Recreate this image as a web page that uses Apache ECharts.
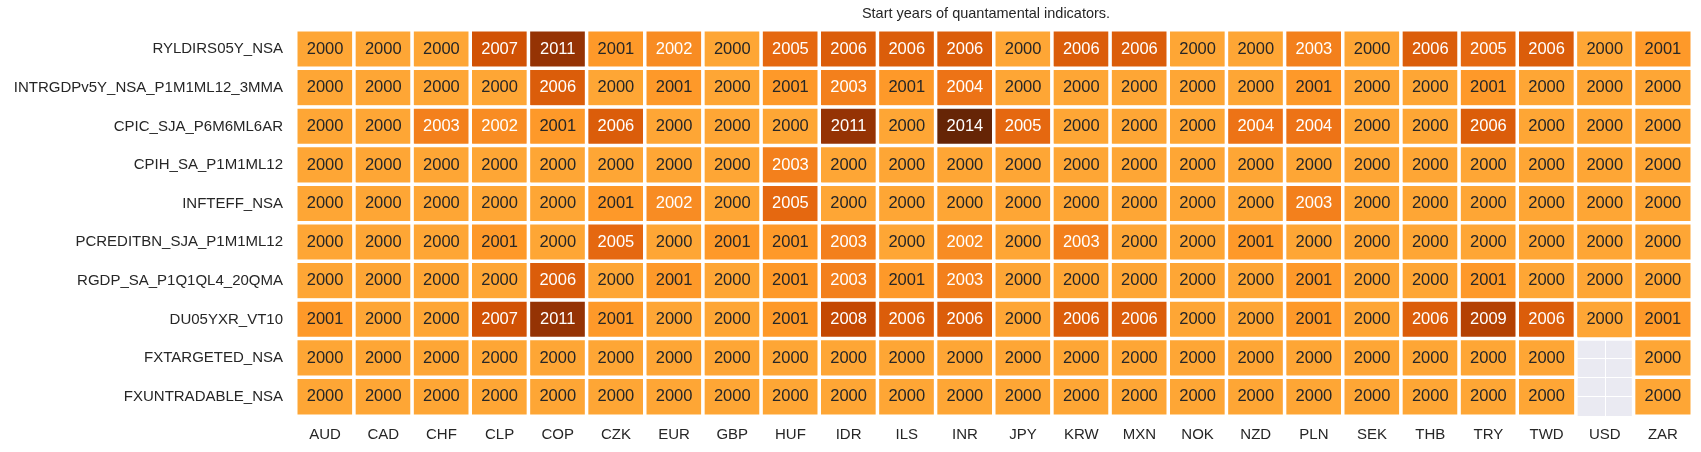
<!DOCTYPE html>
<html>
<head>
<meta charset="utf-8">
<script src="https://cdn.jsdelivr.net/npm/echarts@6/dist/echarts.min.js"></script>
<style>
  html, body { margin: 0; padding: 0; background: #ffffff; }
  #chart { width: 1701px; height: 452px; }
</style>
</head>
<body>
<div id="chart"></div>
<script>
const currencies = ['AUD','CAD','CHF','CLP','COP','CZK','EUR','GBP','HUF','IDR','ILS','INR','JPY','KRW','MXN','NOK','NZD','PLN','SEK','THB','TRY','TWD','USD','ZAR'];

const indicators = [
  'RYLDIRS05Y_NSA',
  'INTRGDPv5Y_NSA_P1M1ML12_3MMA',
  'CPIC_SJA_P6M6ML6AR',
  'CPIH_SA_P1M1ML12',
  'INFTEFF_NSA',
  'PCREDITBN_SJA_P1M1ML12',
  'RGDP_SA_P1Q1QL4_20QMA',
  'DU05YXR_VT10',
  'FXTARGETED_NSA',
  'FXUNTRADABLE_NSA'
];

const ryldirs05y   = [2000,2000,2000,2007,2011,2001,2002,2000,2005,2006,2006,2006,2000,2006,2006,2000,2000,2003,2000,2006,2005,2006,2000,2001];
const intrgdp      = [2000,2000,2000,2000,2006,2000,2001,2000,2001,2003,2001,2004,2000,2000,2000,2000,2000,2001,2000,2000,2001,2000,2000,2000];
const cpic         = [2000,2000,2003,2002,2001,2006,2000,2000,2000,2011,2000,2014,2005,2000,2000,2000,2004,2004,2000,2000,2006,2000,2000,2000];
const cpih         = [2000,2000,2000,2000,2000,2000,2000,2000,2003,2000,2000,2000,2000,2000,2000,2000,2000,2000,2000,2000,2000,2000,2000,2000];
const infteff      = [2000,2000,2000,2000,2000,2001,2002,2000,2005,2000,2000,2000,2000,2000,2000,2000,2000,2003,2000,2000,2000,2000,2000,2000];
const pcreditbn    = [2000,2000,2000,2001,2000,2005,2000,2001,2001,2003,2000,2002,2000,2003,2000,2000,2001,2000,2000,2000,2000,2000,2000,2000];
const rgdp         = [2000,2000,2000,2000,2006,2000,2001,2000,2001,2003,2001,2003,2000,2000,2000,2000,2000,2001,2000,2000,2001,2000,2000,2000];
const du05yxr      = [2001,2000,2000,2007,2011,2001,2000,2000,2001,2008,2006,2006,2000,2006,2006,2000,2000,2001,2000,2006,2009,2006,2000,2001];
const fxtargeted   = [2000,2000,2000,2000,2000,2000,2000,2000,2000,2000,2000,2000,2000,2000,2000,2000,2000,2000,2000,2000,2000,2000,null,2000];
const fxuntradable = [2000,2000,2000,2000,2000,2000,2000,2000,2000,2000,2000,2000,2000,2000,2000,2000,2000,2000,2000,2000,2000,2000,null,2000];

const rows = [ryldirs05y, intrgdp, cpic, cpih, infteff, pcreditbn, rgdp, du05yxr, fxtargeted, fxuntradable];

const titleText = 'Start years of quantamental indicators.';

const W = 1701, H = 452;
const gridLeft = 296, gridRight = 9, gridTop = 30, gridBottom = 36;
const FONT = "'Liberation Sans', Arial, sans-serif";
const DARK = '#262626';

const data = [];
rows.forEach((row, yi) => {
  row.forEach((v, xi) => {
    if (v === null) return;
    data.push({
      value: [xi, yi, v],
      label: { color: v >= 2002 ? '#ffffff' : DARK }
    });
  });
});

const chart = echarts.init(document.getElementById('chart'), null, { renderer: 'canvas', width: W, height: H });

const option = {
  backgroundColor: '#ffffff',
  animation: false,
  textStyle: { fontFamily: FONT },
  graphic: [{
    type: 'text',
    x: gridLeft + (W - gridLeft - gridRight) / 2 - 8,
    y: 14,
    style: {
      text: titleText,
      fill: DARK,
      font: '14.5px ' + FONT,
      textAlign: 'center',
      textVerticalAlign: 'middle'
    }
  }],
  grid: {
    left: gridLeft, right: gridRight, top: gridTop, bottom: gridBottom,
    show: true, backgroundColor: '#EAEAF2', borderWidth: 0
  },
  visualMap: {
    show: false,
    type: 'continuous',
    min: 1988,
    max: 2014,
    dimension: 2,
    seriesIndex: 0,
    inRange: {
      color: ['#ffffe5','#fff7bc','#fee391','#fec44f','#fe9929','#ec7014','#cc4c02','#993404','#662506']
    }
  },
  xAxis: [{
    type: 'category',
    data: currencies,
    position: 'bottom',
    axisLine: { show: false },
    axisTick: { show: false },
    splitLine: { show: false },
    axisLabel: { color: DARK, fontSize: 15, margin: 11, fontFamily: FONT, interval: 0 }
  }, {
    type: 'value',
    min: 0, max: currencies.length * 2, interval: 1,
    axisLine: { show: false }, axisTick: { show: false }, axisLabel: { show: false },
    splitLine: { show: true, lineStyle: { color: '#ffffff', width: 1 } }
  }],
  yAxis: [{
    type: 'category',
    data: indicators,
    inverse: true,
    axisLine: { show: false },
    axisTick: { show: false },
    splitLine: { show: false },
    axisLabel: { color: DARK, fontSize: 15, margin: 13, fontFamily: FONT, interval: 0 }
  }, {
    type: 'value',
    min: 0, max: indicators.length * 2, interval: 1,
    axisLine: { show: false }, axisTick: { show: false }, axisLabel: { show: false },
    splitLine: { show: true, lineStyle: { color: '#ffffff', width: 1 } }
  }],
  series: [{
    type: 'heatmap',
    xAxisIndex: 0,
    yAxisIndex: 0,
    data: data,
    itemStyle: { borderColor: '#ffffff', borderWidth: 3.5 },
    label: { show: true, fontSize: 16.5, fontFamily: FONT },
    emphasis: { disabled: true }
  }]
};

chart.setOption(option);
</script>
</body>
</html>
